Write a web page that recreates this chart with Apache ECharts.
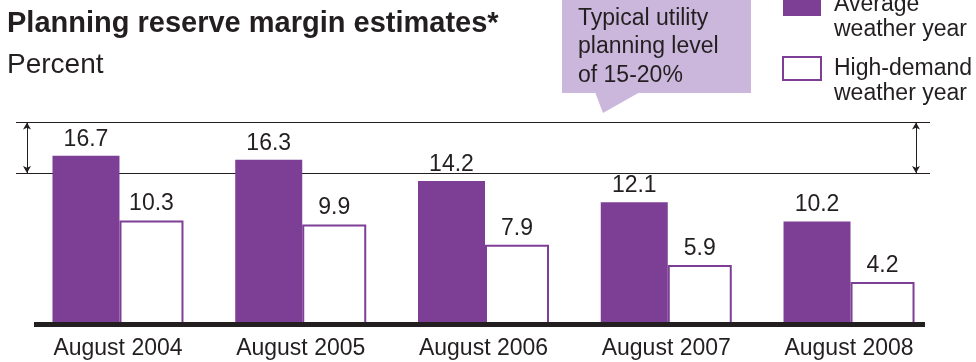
<!DOCTYPE html>
<html>
<head>
<meta charset="utf-8">
<script src="https://cdn.jsdelivr.net/npm/echarts@6/dist/echarts.min.js"></script>
<style>
  html, body { margin: 0; padding: 0; background: #fff; }
  #chart { width: 976px; height: 362px; }
</style>
</head>
<body>
<div id="chart"></div>
<script>
// Planning reserve margins, percent
const categories = ['August 2004', 'August 2005', 'August 2006', 'August 2007', 'August 2008'];
const averageYear = [16.7, 16.3, 14.2, 12.1, 10.2];
const highDemandYear = [10.3, 9.9, 7.9, 5.9, 4.2];
// Typical utility planning band (low, high), percent
const planningBand = [15, 20];

const INK = '#231f20';
const PURPLE = '#7d3f96';
const FONT = '"Liberation Sans", Arial, Helvetica, sans-serif';

const chart = echarts.init(document.getElementById('chart'), null, { renderer: 'canvas' });

const bandLines = planningBand.map(v => [
  { x: 16, yAxis: v, symbol: 'none' },
  { x: 930, yAxis: v, symbol: 'none' }
]);
const bandArrows = [27, 916].map(px => [
  { x: px, yAxis: planningBand[1], symbol: 'arrow' },
  { x: px, yAxis: planningBand[0], symbol: 'arrow' }
]);

const valueLabel = {
  show: true,
  position: 'top',
  distance: 5,
  color: INK,
  fontFamily: FONT,
  fontSize: 23,
  formatter: p => p.value.toFixed(1)
};

chart.setOption({
  animation: false,
  backgroundColor: '#fff',
  textStyle: { fontFamily: FONT },
  title: [
    {
      text: 'Planning reserve margin estimates*',
      left: 7, top: 9, padding: 0,
      textStyle: { fontFamily: FONT, fontSize: 29, fontWeight: 'bold', color: INK }
    },
    {
      text: 'Percent',
      left: 7, top: 51, padding: 0,
      textStyle: { fontFamily: FONT, fontSize: 28, fontWeight: 'normal', color: INK }
    }
  ],
  legend: {
    orient: 'vertical',
    left: 782,
    top: -33,
    padding: 0,
    itemGap: -11,
    itemWidth: 38,
    itemHeight: 23,
    icon: 'rect',
    selectedMode: false,
    // leading blank line keeps the first text line level with the swatch
    formatter: name => '\n' + name.replace(' weather', '\nweather'),
    textStyle: {
      fontFamily: FONT, fontSize: 23, color: INK,
      lineHeight: 25, padding: [0, 0, 0, 8]
    },
    data: ['Average weather year', 'High-demand weather year']
  },
  grid: { left: 26.6, right: 35.6, top: 102.3, bottom: 37.5 },
  xAxis: {
    type: 'category',
    data: categories,
    axisLine: { show: false },
    axisTick: { show: false },
    axisLabel: { color: INK, fontFamily: FONT, fontSize: 23, margin: 13 }
  },
  yAxis: {
    type: 'value',
    min: 0, max: 22,
    show: false,
    splitLine: { show: false }
  },
  series: [
    {
      name: 'Average weather year',
      type: 'bar',
      data: averageYear,
      barWidth: 67,
      barGap: '0%',
      z: 2,
      itemStyle: { color: PURPLE },
      label: valueLabel,
      emphasis: { disabled: true },
      markLine: {
        silent: true,
        z: 1,
        symbol: 'none',
        symbolSize: [6, 7],
        label: { show: false },
        lineStyle: { color: INK, width: 1, type: 'solid' },
        emphasis: { disabled: true },
        data: bandLines.concat(bandArrows)
      }
    },
    {
      name: 'High-demand weather year',
      type: 'bar',
      data: highDemandYear,
      barWidth: 64,
      z: 2,
      itemStyle: { color: '#ffffff', borderColor: PURPLE, borderWidth: 2 },
      label: valueLabel,
      emphasis: { disabled: true },
      markLine: {
        silent: true,
        z: 10,
        symbol: 'none',
        label: { show: false },
        lineStyle: { color: INK, width: 5, type: 'solid' },
        emphasis: { disabled: true },
        data: [[{ x: 34, yAxis: 0 }, { x: 925, yAxis: 0 }]]
      }
    }
  ],
  graphic: [
    {
      type: 'group',
      silent: true,
      children: [
        {
          type: 'rect',
          shape: { x: 562, y: -10, width: 189, height: 103 },
          style: { fill: '#cbb6dc' }
        },
        {
          type: 'polygon',
          shape: { points: [[595, 92], [640, 92], [603, 113]] },
          style: { fill: '#cbb6dc' }
        },
        {
          type: 'text',
          x: 578, y: 4,
          style: {
            text: 'Typical utility\nplanning level\nof 15-20%',
            font: '23px ' + FONT,
            lineHeight: 28.5,
            fill: INK
          }
        }
      ]
    }
  ]
});
</script>
</body>
</html>
